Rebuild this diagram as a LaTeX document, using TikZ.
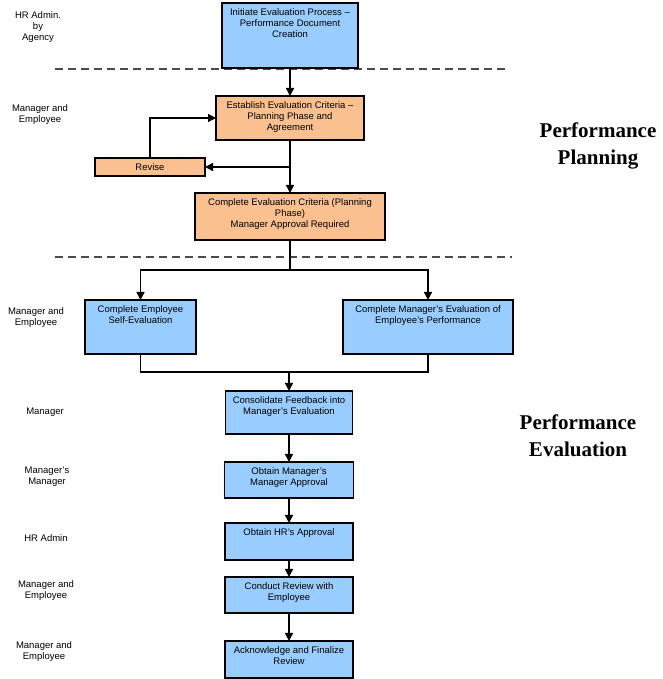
\documentclass[tikz,border=0pt]{standalone}
\usepackage{fontspec}
\setmainfont{Liberation Sans}
\newfontfamily\titlefont{Liberation Serif}
\usepackage{tikz}
\usetikzlibrary{arrows.meta}
\usetikzlibrary{positioning}
\definecolor{boxblue}{RGB}{153,204,255}
\definecolor{boxorange}{RGB}{250,192,144}
\newcommand{\intext}[3]{\parbox[t][#2][t]{#1}{\centering\strut #3}}

\begin{document}
\begin{tikzpicture}[->,
                    >={Triangle[length=8pt,width=8pt]},
                    x=1pt, y=1pt,
                    line width=1.5pt,
                    node distance=28pt,
                    font=\fontsize{9.5}{11}\selectfont,
                    blu/.style={rectangle,draw,fill=boxblue,inner xsep=0pt,inner ysep=5pt,outer sep=0pt},
                    ora/.style={blu,fill=boxorange},
                    who/.style={align=center},
                    sep/.style={-,dash pattern=on 8pt off 5pt,line width=2.2pt,black!70},
                    title/.style={align=center,font=\titlefont\bfseries\fontsize{21}{27}\selectfont}
                    ]
\useasboundingbox (0,0) rectangle (662,679);

\draw[sep] (55,610) -- (508,610);
\draw[sep] (55,422) -- (512,422);

% Planning
  \node[blu] (1) at (290,643.5) {\intext{136pt}{55pt}{Initiate Evaluation Process --\\Performance Document\\Creation}};
  \node[ora] (2) [below=of 1] {\intext{148pt}{34pt}{Establish Evaluation Criteria --\\Planning Phase and\\Agreement}};
  \node[ora] (3) [below=53pt of 2] {\intext{190pt}{37pt}{Complete Evaluation Criteria (Planning\\Phase)\\Manager Approval Required}};
  \node[ora, minimum width=110pt, minimum height=18pt, inner sep=0pt] (11) at (150,512) {Revise};

\draw (1) -- (2);
\draw (2) -- (3);
\draw (2.south |- 11) -- (11);
\draw (11) |- (2);

% Evaluation
\node[blu] (4) at (140.5,352) {\intext{111pt}{44pt}{Complete Employee\\Self-Evaluation}};
\node[blu] (5) at (428,352) {\intext{170pt}{44pt}{Complete Manager's Evaluation of\\Employee's Performance}};
\node[blu] (6) at (289,266.5) {\intext{127pt}{33pt}{Consolidate Feedback into\\Manager's Evaluation}};
\node[blu] (7) [below=of 6] {\intext{129pt}{26pt}{Obtain Manager's\\Manager Approval}};
\node[blu] (8) [below=25pt of 7] {\intext{128pt}{27pt}{Obtain HR's Approval}};
\node[blu] (9) [below=17pt of 8] {\intext{128pt}{26pt}{Conduct Review with\\Employee}};
\node[blu] (10) [below=of 9] {\intext{128pt}{27pt}{Acknowledge and Finalize\\Review}};

\coordinate (j1) at ([yshift=-30pt]3.south);
\draw[-] (3) -- (j1);
\draw (j1) -| (4);
\draw (j1) -| (5);
\coordinate (j2) at (6.north |- 0,307);
\draw[-] (4) |- (j2);
\draw[-] (5) |- (j2);
\draw (j2) -- (6);
\draw (6) -- (7);
\draw (7) -- (8);
\draw (8) -- (9);
\draw (9) -- (10);

% who does it
\node[who] (12) at (38,652) {HR Admin.\\by\\Agency};
\node[who] (13) at (40,564) {Manager and\\Employee};
\node[who] (14) at (36,361) {Manager and\\Employee};
\node[who] (15) at (45,267) {Manager};
\node[who] (16) at (47,202) {Manager's\\Manager};
\node[who] (17) at (46,141) {HR Admin};
\node[who] (18) at (46,88) {Manager and\\Employee};
\node[who] (19) at (44,27) {Manager and\\Employee};

% phases
\node[title] (20) at (598,533.5) {Performance\\Planning};
\node[title] (21) at (578,243) {Performance\\Evaluation};
\end{tikzpicture}
\end{document}
